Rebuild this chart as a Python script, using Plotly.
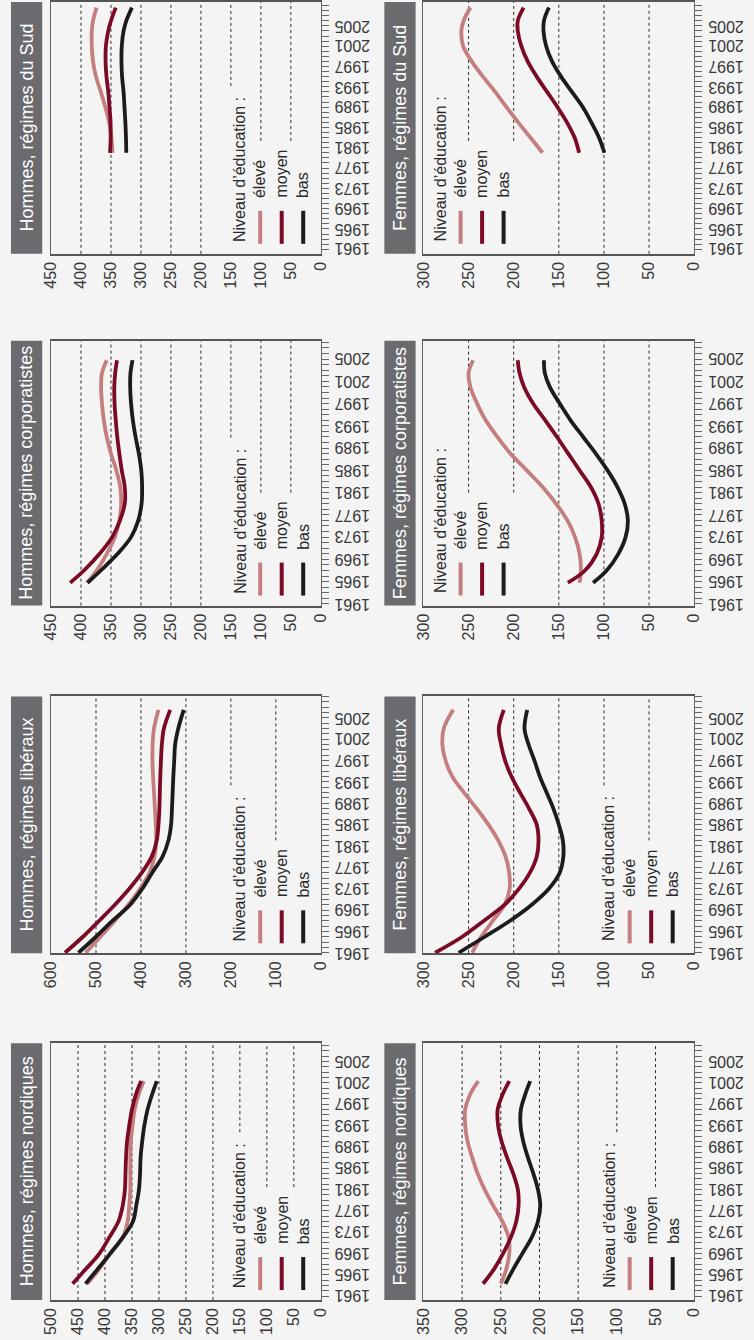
import plotly.graph_objects as go

W, H = 754, 1340
BG = "#f4f4f4"
FONT = "Liberation Sans, Arial, sans-serif"

# ---------------- data ----------------
series_labels = ["élevé", "moyen", "bas"]
series_colors = ["#c47e7e", "#7b0a27", "#1d1b1b"]
legend_title = "Niveau d’éducation :"
year_labels = ["1961", "1965", "1969", "1973", "1977", "1981", "1985",
               "1989", "1993", "1997", "2001", "2005"]

title_hn = "Hommes, régimes nordiques"
title_fn = "Femmes, régimes nordiques"
title_hl = "Hommes, régimes libéraux"
title_fl = "Femmes, régimes libéraux"
title_hc = "Hommes, régimes corporatistes"
title_fc = "Femmes, régimes corporatistes"
title_hs = "Hommes, régimes du Sud"
title_fs = "Femmes, régimes du Sud"

ticks_hn = [0, 50, 100, 150, 200, 250, 300, 350, 400, 450, 500]
ticks_fn = [0, 50, 100, 150, 200, 250, 300, 350]
ticks_hl = [0, 100, 200, 300, 400, 500, 600]
ticks_fl = [0, 50, 100, 150, 200, 250, 300]
ticks_hc = [0, 50, 100, 150, 200, 250, 300, 350, 400, 450]
ticks_fc = [0, 50, 100, 150, 200, 250, 300]
ticks_hs = [0, 50, 100, 150, 200, 250, 300, 350, 400, 450]
ticks_fs = [0, 50, 100, 150, 200, 250, 300]

nord_years = [1963.3, 1966, 1969, 1972, 1975, 1978, 1981, 1984, 1987, 1990, 1993, 1996, 1999, 2001.3]
hn_eleve = [433, 411, 390, 367, 358, 355, 353, 353, 353, 352, 349, 345, 337, 328]
hn_moyen = [460, 436, 410, 392, 375, 367, 363, 362, 361, 359, 355, 350, 342, 333]
hn_bas = [436, 414, 390, 367, 348, 342, 337, 335, 334, 331, 327, 321, 312, 304]
fn_eleve = [250, 243, 239, 240, 248, 260, 271, 280, 287, 293, 296, 296, 289, 279]
fn_moyen = [273, 259, 247, 237, 230, 227, 228, 234, 242, 249, 253.5, 254, 247, 239]
fn_bas = [244, 234, 222, 210, 202, 199, 202, 208, 215, 221, 224.5, 224, 218, 212]

lib_years = [1961, 1964, 1967, 1970, 1973, 1976, 1979, 1982, 1985, 1988, 1991, 1994, 1997, 2000, 2003, 2006.5]
hl_eleve = [523, 490, 458, 428, 402, 381, 370, 366, 367, 369, 371, 373, 374.5, 374, 371, 361]
hl_moyen = [569, 529, 493, 458, 426, 398, 376, 365, 361, 359, 358, 357, 355.5, 353.5, 349, 335]
hl_bas = [539, 500, 463, 424, 397, 375, 352, 339, 333, 331, 329.5, 328, 326, 324, 317, 305]
fl_eleve = [246, 236, 223, 210, 204.5, 205, 209, 217, 228, 241, 255, 268, 275.5, 279, 277.5, 267]
fl_moyen = [287, 257, 233, 210, 194, 182, 174.5, 172.5, 174.5, 183, 193, 202.5, 209.5, 214, 216.5, 211]
fl_bas = [261, 232, 204, 180, 161, 149, 145, 145.5, 150, 156, 163.5, 171, 177, 183.5, 188, 185]

corp_years = [1964.8, 1967, 1970, 1973, 1976, 1979, 1982, 1985, 1988, 1991, 1994, 1997, 2000, 2002.5, 2004.8]
hc_eleve = [390, 374, 357, 343.5, 336, 333, 334.5, 341, 350, 357, 362, 365, 366.5, 365, 357]
hc_moyen = [418, 395, 369, 348, 335, 327, 327, 332, 336, 339.5, 342, 344, 344.5, 343, 340]
hc_bas = [389, 367, 339, 316.5, 304.5, 299, 298, 299.5, 303.5, 309, 313.5, 316.5, 318, 317.5, 314]
fc_eleve = [127, 125.5, 127, 132, 140.5, 153, 168, 185.5, 203.5, 218, 231, 240.5, 248, 250, 245]
fc_moyen = [140, 121, 108, 102.5, 102.5, 106, 114.5, 127, 139.5, 152, 165, 178.5, 188.5, 193.5, 195.5]
fc_bas = [112, 97, 84, 76, 73.5, 77, 85, 96, 109, 123, 137, 149, 160, 165.5, 166.5]

sud_years = [1980, 1983, 1986, 1989, 1992, 1995, 1998, 2001, 2004, 2006, 2008.6]
hs_eleve = [347.5, 349.5, 353, 359.5, 367, 375, 380, 382, 382, 380, 374]
hs_moyen = [351.5, 350.5, 350.7, 352.5, 354.5, 357.5, 359, 358.5, 354.5, 350, 342]
hs_bas = [324.5, 325, 326, 327.5, 329, 331.5, 332.5, 332, 329, 324.5, 315]
fs_eleve = [168, 181.5, 195, 208, 220.5, 234, 246.5, 256, 258, 255.5, 248]
fs_moyen = [127.5, 132.5, 141, 151.5, 163, 174.5, 184.5, 191.5, 195.5, 195.5, 189]
fs_bas = [99.5, 105.5, 114, 123.5, 135.5, 147.5, 157.5, 164, 167, 166.5, 161]

# ---------------- layout geometry (pixels) ----------------
COLS = {"H": dict(xl=43, xr=319, tx0=2, tx1=34),
        "F": dict(xl=424, xr=701, tx0=384, tx1=416)}
ROWS = {"sud": dict(yt=1, yb=253, yr=(1960.1, 2009.7)),
        "corp": dict(yt=340, yb=605, yr=(1960.7, 2008.3)),
        "lib": dict(yt=696, yb=953, yr=(1960.9, 2009.0)),
        "nord": dict(yt=1043, yb=1300, yr=(1960.25, 2008.4))}

panels = [
    dict(title=title_hn, col="H", row="nord", years=nord_years, vals=[hn_eleve, hn_moyen, hn_bas], ticks=ticks_hn, leg="right"),
    dict(title=title_fn, col="F", row="nord", years=nord_years, vals=[fn_eleve, fn_moyen, fn_bas], ticks=ticks_fn, leg="right"),
    dict(title=title_hl, col="H", row="lib", years=lib_years, vals=[hl_eleve, hl_moyen, hl_bas], ticks=ticks_hl, leg="right"),
    dict(title=title_fl, col="F", row="lib", years=lib_years, vals=[fl_eleve, fl_moyen, fl_bas], ticks=ticks_fl, leg="right"),
    dict(title=title_hc, col="H", row="corp", years=corp_years, vals=[hc_eleve, hc_moyen, hc_bas], ticks=ticks_hc, leg="right"),
    dict(title=title_fc, col="F", row="corp", years=corp_years, vals=[fc_eleve, fc_moyen, fc_bas], ticks=ticks_fc, leg="left"),
    dict(title=title_hs, col="H", row="sud", years=sud_years, vals=[hs_eleve, hs_moyen, hs_bas], ticks=ticks_hs, leg="right"),
    dict(title=title_fs, col="F", row="sud", years=sud_years, vals=[fs_eleve, fs_moyen, fs_bas], ticks=ticks_fs, leg="left"),
]

TXT = "#383838"


def fx(px):
    return px / W


def fy(py):
    return 1 - py / H


fig = go.Figure()
shapes = []
annotations = []
layout_axes = {}

for i, p in enumerate(panels, start=1):
    c = COLS[p["col"]]
    r = ROWS[p["row"]]
    xs = "" if i == 1 else str(i)
    xname, yname = "x" + xs, "y" + xs
    vmax = max(p["ticks"])

    layout_axes["xaxis" + xs] = dict(
        domain=[fx(c["xl"]), fx(c["xr"])], anchor=yname,
        range=[vmax, 0], tickmode="array", tickvals=p["ticks"],
        ticktext=[str(t) for t in p["ticks"]], tickangle=-90,
        tickfont=dict(family=FONT, size=16, color=TXT),
        showgrid=False, zeroline=False, showline=True,
        linecolor="#555555", linewidth=1.5, mirror=True, ticks="",
        fixedrange=True)
    layout_axes["yaxis" + xs] = dict(
        domain=[fy(r["yb"]), fy(r["yt"])], anchor=xname, side="right",
        range=list(r["yr"]), tickmode="linear", tick0=1961, dtick=1,
        ticks="outside", ticklen=7, tickwidth=1, tickcolor="#666666",
        showticklabels=False, showgrid=False, zeroline=False,
        showline=True, linecolor="#666666", linewidth=1.2, mirror=True,
        fixedrange=True)

    for name, color, vals in zip(series_labels, series_colors, p["vals"]):
        fig.add_trace(go.Scatter(
            x=vals, y=p["years"], xaxis=xname, yaxis=yname, mode="lines",
            line=dict(color=color, width=3.8, shape="spline", smoothing=1.0),
            name=name, showlegend=False, hoverinfo="skip"))

    # year tick labels (upside-down, as in the rotated original)
    for lab in year_labels:
        annotations.append(dict(
            x=fx(c["xr"] + 12), xref="paper", xanchor="left",
            y=int(lab), yref=yname, yanchor="middle",
            text=lab, textangle=180, showarrow=False,
            font=dict(family=FONT, size=16, color=TXT)))

    # title box
    shapes.append(dict(type="rect", xref="paper", yref="paper",
                       x0=fx(c["tx0"]), x1=fx(c["tx1"]),
                       y0=fy(r["yb"]), y1=fy(r["yt"]),
                       fillcolor="#6b6b6f", line=dict(width=0), layer="above"))
    annotations.append(dict(
        x=fx((c["tx0"] + c["tx1"]) / 2), y=fy((r["yt"] + r["yb"]) / 2),
        xref="paper", yref="paper", xanchor="center", yanchor="middle",
        text=p["title"], textangle=-90, showarrow=False,
        font=dict(family=FONT, size=18, color="white")))

    # custom legend position
    if p["leg"] == "right":
        cx = c["xr"] - (83 if p["col"] == "H" else 87)
    else:
        cx = c["xl"] + 17
    by = r["yb"] - 10
    dyr = r["yb"] - r["yt"]
    mask1 = (cx - 14, cx + 11, by - 158)
    mask2 = (cx + 11, cx + 80, by - 103)

    # dotted grid lines at the value ticks, interrupted by the legend block
    for t in p["ticks"]:
        if t == 0 or t == vmax:
            continue
        px = c["xr"] - t / vmax * (c["xr"] - c["xl"])
        y0 = 0.0
        for (mx0, mx1, mtop) in (mask1, mask2):
            if mx0 <= px <= mx1:
                y0 = (r["yb"] - mtop) / dyr
        shapes.append(dict(type="line", xref=xname, yref=yname + " domain",
                           x0=t, x1=t, y0=y0, y1=1,
                           line=dict(color="#2b2b2b", width=1, dash="dot"),
                           layer="below"))

    annotations.append(dict(
        x=fx(cx), y=fy(by), xref="paper", yref="paper",
        xanchor="center", yanchor="bottom", text=legend_title, textangle=-90,
        showarrow=False, font=dict(family=FONT, size=16, color="#2a2a2a")))
    for k, (name, color) in enumerate(zip(series_labels, series_colors)):
        lx = cx + [21, 43, 65][k]
        shapes.append(dict(type="line", xref="paper", yref="paper",
                           x0=fx(lx), x1=fx(lx), y0=fy(by), y1=fy(by - 33),
                           line=dict(color=color, width=4), layer="above"))
        annotations.append(dict(
            x=fx(lx), y=fy(by - 44), xref="paper", yref="paper",
            xanchor="center", yanchor="bottom", text=name, textangle=-90,
            showarrow=False, font=dict(family=FONT, size=16, color="#2a2a2a")))

fig.update_layout(
    width=W, height=H, margin=dict(l=0, r=0, t=0, b=0),
    paper_bgcolor=BG, plot_bgcolor=BG, showlegend=False,
    shapes=shapes, annotations=annotations,
    font=dict(family=FONT), **layout_axes)

# remove the browser's default 8px page margin so the figure sits at (0, 0)
fig.write_html("out.html", config={"displayModeBar": False},
               post_script="document.body.style.margin='0';document.body.style.background='%s';" % BG)
